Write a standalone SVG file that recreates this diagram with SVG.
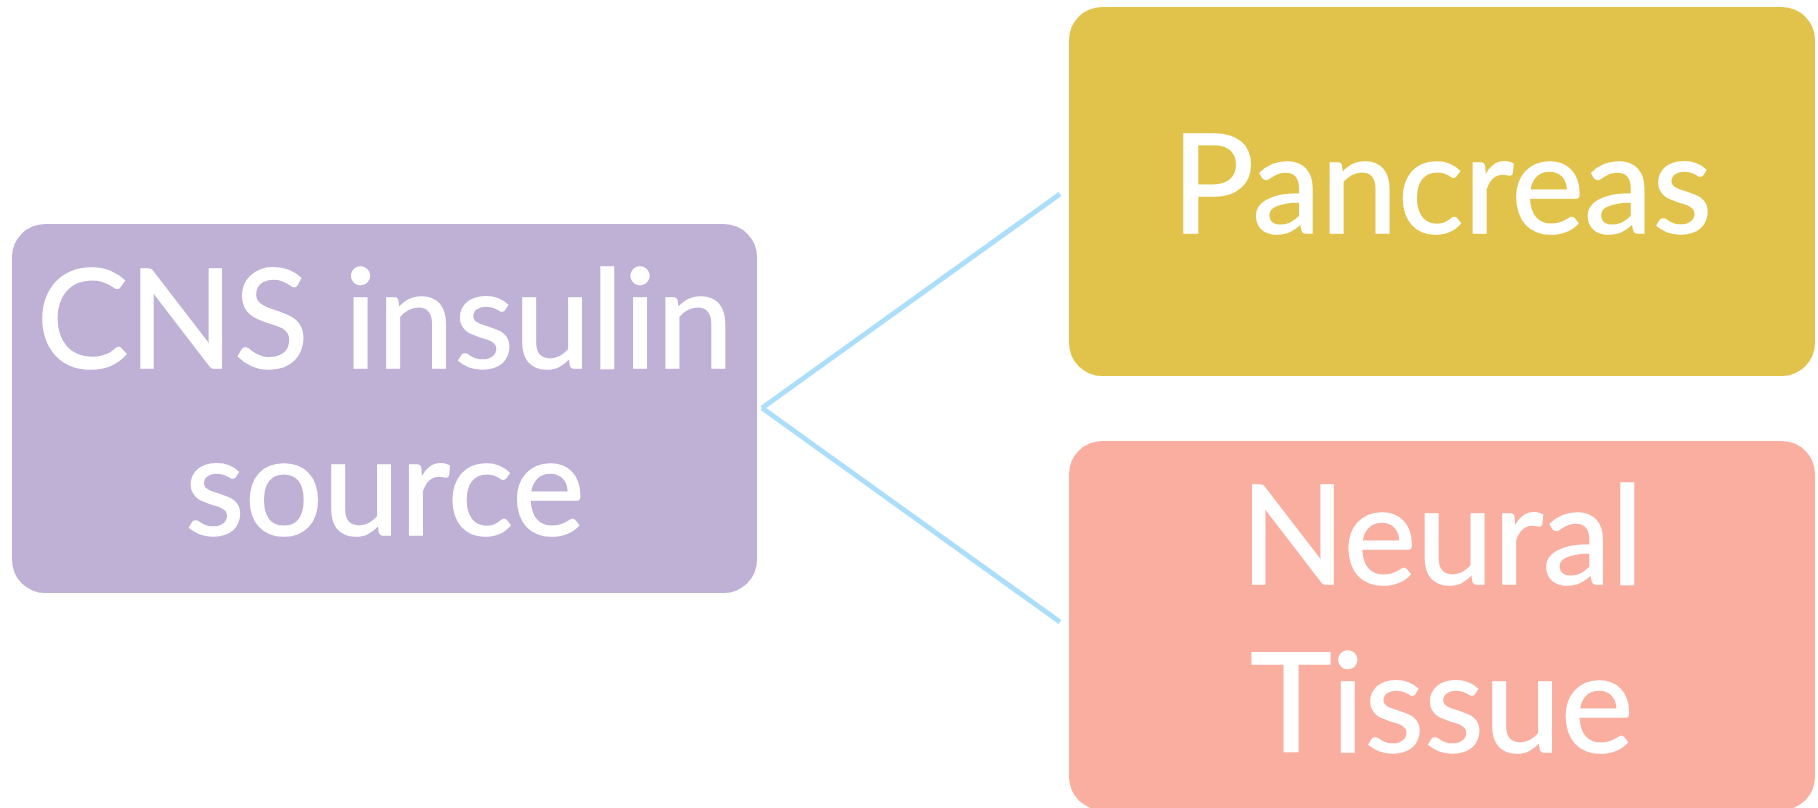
<svg xmlns="http://www.w3.org/2000/svg" width="1818" height="808" viewBox="0 0 1818 808">
  <style>
    .box { stroke: none; }
    .lbl { font-family: Lato, "Open Sans", "Liberation Sans", sans-serif; font-size: 138px; fill: #ffffff; stroke: #ffffff; stroke-width: 1.6; text-anchor: middle; }
    .conn { stroke: #ABDEFA; stroke-width: 5; fill: none; stroke-linecap: butt; }
  </style>
  <rect width="1818" height="808" fill="#ffffff"/>
  <g id="connectors">
    <line class="conn" x1="762" y1="408" x2="1060" y2="194"/>
    <line class="conn" x1="762" y1="408" x2="1060" y2="622"/>
  </g>
  <g id="node-cns">
    <rect class="box" x="12" y="224" width="745" height="369" rx="33" ry="33" fill="#BFB0D5"/>
    <text class="lbl" x="385" y="368">CNS insulin</text>
    <text class="lbl" x="385" y="535">source</text>
  </g>
  <g id="node-pancreas">
    <rect class="box" x="1069" y="7" width="746" height="369" rx="33" ry="33" fill="#E1C34B"/>
    <text class="lbl" x="1442" y="233">Pancreas</text>
  </g>
  <g id="node-neural">
    <rect class="box" x="1069" y="441" width="746" height="369" rx="33" ry="33" fill="#FAAEA0"/>
    <text class="lbl" x="1442" y="584">Neural</text>
    <text class="lbl" x="1442" y="752">Tissue</text>
  </g>
</svg>
